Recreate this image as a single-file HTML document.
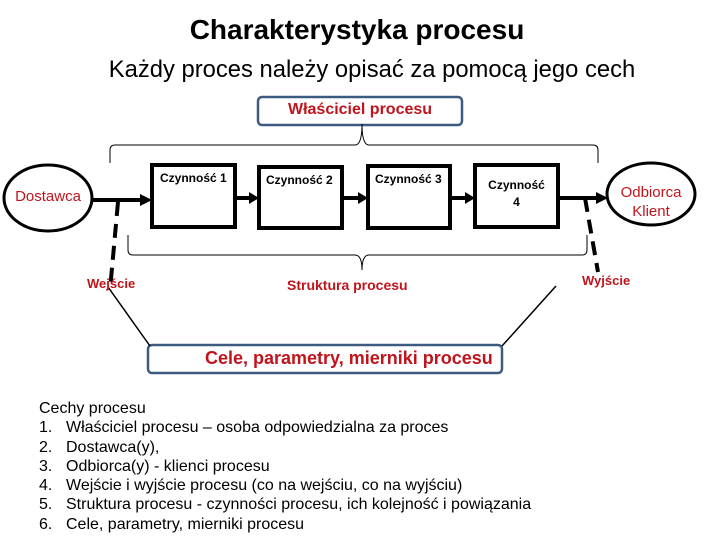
<!DOCTYPE html>
<html><head><meta charset="utf-8"><style>
body{margin:0;width:720px;height:540px;background:#fff;position:relative;overflow:hidden;font-family:"Liberation Sans",Arial,sans-serif}
.a{position:absolute;white-space:nowrap}
.red{color:#c0141c;font-weight:bold}
.li{position:relative;padding-left:27px}
.li span{position:absolute;left:0}
</style></head><body>
<div class="a" style="left:0;width:714px;text-align:center;top:14px;font-size:28px;font-weight:bold">Charakterystyka procesu</div>
<div class="a" style="left:0;width:744px;text-align:center;top:56px;font-size:23.8px">Każdy proces należy opisać za pomocą jego cech</div>
<svg class="a" style="left:0;top:0" width="720" height="540">
<rect x="258" y="97" width="204" height="28" rx="4" fill="#fff" stroke="#3d5a80" stroke-width="2.5"/>
<rect x="148" y="345" width="354" height="28" rx="4" fill="#fff" stroke="#3d5a80" stroke-width="2.5"/>
<g fill="none" stroke="#000" stroke-width="1">
<path d="M110 163 V150 Q110 145 115 145 H355 Q362 145 362 124 Q362 145 369 145 H593 Q598 145 598 150 V163"/>
<path d="M128 235 V250 Q128 255 133 255 H355 Q362 255 362 270 Q362 255 369 255 H582 Q587 255 587 250 V235"/>
<path d="M108 287 L150 346 M502 346 L556 286" stroke-width="1.5"/>
</g>
<g fill="#fff" stroke="#000" stroke-width="4">
<rect x="152" y="165" width="83" height="62"/>
<rect x="259" y="167" width="83" height="61"/>
<rect x="368" y="166" width="82" height="62"/>
<rect x="475" y="165" width="83" height="62"/>
<ellipse cx="48" cy="198" rx="44" ry="33" stroke-width="3"/>
<ellipse cx="651" cy="194" rx="44" ry="31" stroke-width="3"/>
</g>
<g stroke="#000" stroke-width="4">
<line x1="92" y1="200" x2="142" y2="200"/><line x1="235" y1="198" x2="251" y2="198"/>
<line x1="342" y1="198" x2="360" y2="198"/><line x1="450" y1="198" x2="467" y2="198"/>
<line x1="558" y1="198" x2="598" y2="198"/>
<line x1="118" y1="202" x2="110" y2="290" stroke-dasharray="14,8"/>
<line x1="585" y1="198" x2="598" y2="272" stroke-dasharray="14,8"/>
</g>
<g fill="#000">
<polygon points="152,200 140,194 140,206"/><polygon points="259,198 249,192 249,204"/>
<polygon points="368,198 358,192 358,204"/><polygon points="475,198 465,192 465,204"/>
<polygon points="608,198 596,192 596,204"/>
</g>
</svg>
<div class="a red" style="left:258px;width:204px;text-align:center;top:101px;font-size:16px">Właściciel procesu</div>
<div class="a red" style="left:205px;top:348px;font-size:18px">Cele, parametry, mierniki procesu</div>
<div class="a" style="left:160px;top:171px;font-size:12px;font-weight:bold">Czynność 1</div>
<div class="a" style="left:266px;top:173px;font-size:12px;font-weight:bold">Czynność 2</div>
<div class="a" style="left:375px;top:172px;font-size:12px;font-weight:bold">Czynność 3</div>
<div class="a" style="left:475px;width:83px;text-align:center;top:177px;font-size:12px;font-weight:bold;line-height:17px;white-space:normal">Czynność<br>4</div>
<div class="a" style="left:4px;width:88px;text-align:center;top:188px;font-size:15px;color:#c0141c">Dostawca</div>
<div class="a" style="left:607px;width:88px;text-align:center;top:183px;font-size:15px;color:#c0141c;line-height:19px">Odbiorca<br>Klient</div>
<div class="a red" style="left:87px;top:276px;font-size:13px">Wejście</div>
<div class="a red" style="left:582px;top:273px;font-size:13px">Wyjście</div>
<div class="a red" style="left:287px;top:277px;font-size:14px">Struktura procesu</div>
<div class="a" style="left:39px;top:399px;font-size:16px;line-height:19.3px">
<div>Cechy procesu</div>
<div class="li"><span>1.</span>Właściciel procesu – osoba odpowiedzialna za proces</div>
<div class="li"><span>2.</span>Dostawca(y),</div>
<div class="li"><span>3.</span>Odbiorca(y) - klienci procesu</div>
<div class="li"><span>4.</span>Wejście i wyjście procesu (co na wejściu, co na wyjściu)</div>
<div class="li"><span>5.</span>Struktura procesu - czynności procesu, ich kolejność i powiązania</div>
<div class="li"><span>6.</span>Cele, parametry, mierniki procesu</div>
</div>
</body></html>
